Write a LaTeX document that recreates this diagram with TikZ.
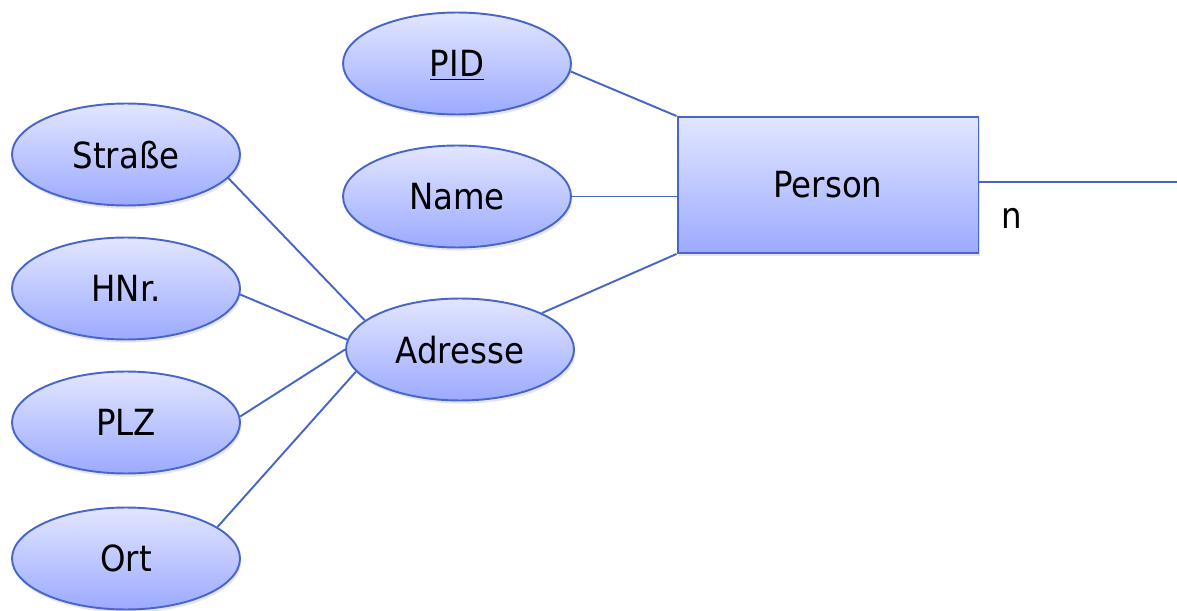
\documentclass[tikz,border=0pt]{standalone}
\usepackage{fontspec}
\setmainfont{DejaVu Sans Condensed}
\usepackage{tikz}
\usetikzlibrary{positioning,shapes.geometric,shadows}

\definecolor{erline}{RGB}{72,102,200}
\definecolor{ertop}{RGB}{226,230,255}
\definecolor{erbottom}{RGB}{156,170,255}

\begin{document}
\begin{tikzpicture}[x=0.02cm,y=-0.02cm,
    attr/.style={draw=erline, line width=1.1pt, ellipse, minimum width=4.56cm, minimum height=2.04cm, inner sep=0pt,
        top color=ertop, bottom color=erbottom, drop shadow={opacity=0.2, shadow xshift=0.8pt, shadow yshift=-1.8pt},
        font=\fontsize{20.5}{24}\selectfont, text depth=0pt, yshift=-0.03cm},
    entity/.style={draw=erline, line width=1.1pt, rectangle, minimum width=6.02cm, minimum height=2.72cm, inner sep=0pt,
        top color=ertop, bottom color=erbottom, drop shadow={opacity=0.2, shadow xshift=0.8pt, shadow yshift=-1.8pt},
        font=\fontsize{20.5}{24}\selectfont},
    link/.style={draw=erline, line width=1.1pt}, ]

    \useasboundingbox (0,0) rectangle (1177,611);

    % entity
    \node[entity] (person) at (828,185) {Person};

    % attributes of Person
    \node[attr] (pid) at (457,62) {\underline{PID}};
    \node[attr] (name) at (457,195) {Name};
    \node[attr] (adresse) at (460,348) {Adresse};

    % parts of Adresse
    \node[attr] (strasse) at (126,153) {Straße};
    \node[attr] (hnr) at (126,287) {HNr.};
    \node[attr] (plz) at (126,421) {PLZ};
    \node[attr] (ort) at (126,557) {Ort};

    \draw[link] (pid.-4) -- (person.north west);
    \draw[link] (name.east) -- (person.west |- name.east);
    \draw[link] (adresse.24) -- (person.south west);

    \draw[link] (strasse.-13) -- (adresse.163);
    \draw[link] (hnr.-3) -- (adresse.175);
    \draw[link] (plz.3) -- (adresse.180);
    \draw[link] (ort.19) -- (adresse.192);

    % relationship line, leaves the picture
    \coordinate (rel) at (1177,182);
    \draw[link] (person.east |- rel) -- (rel);
    \node[font=\fontsize{20.5}{24}\selectfont] (card) at (1012,218) {n};

\end{tikzpicture}
\end{document}
